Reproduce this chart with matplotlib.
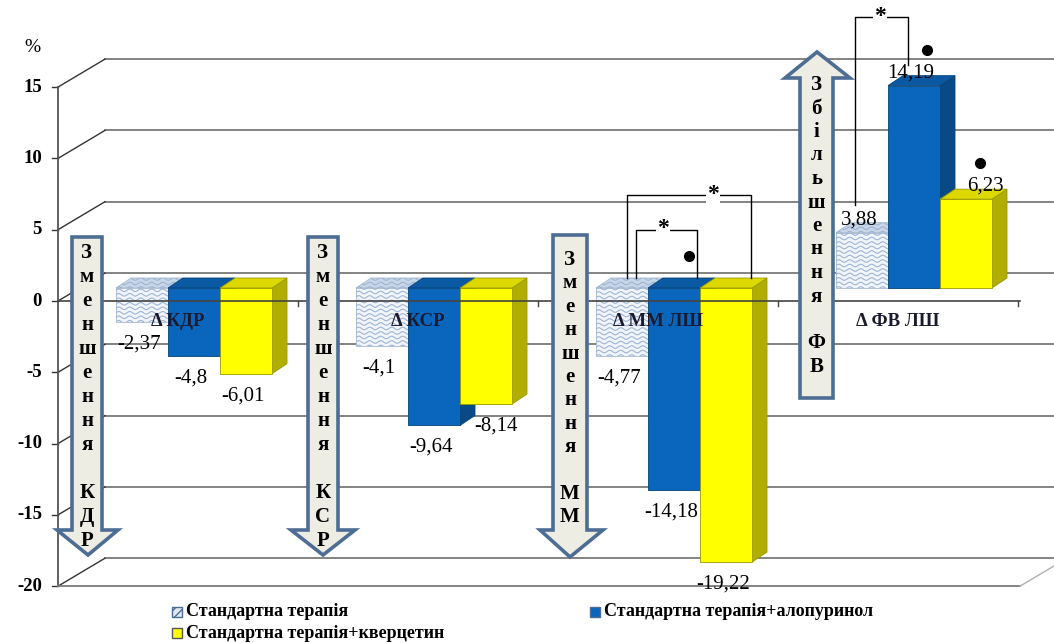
import numpy as np
import matplotlib
matplotlib.use("Agg")
import matplotlib.pyplot as plt
from matplotlib.patches import Polygon, Rectangle

plt.rcParams['font.family'] = ['Liberation Serif', 'DejaVu Serif']

# data
categories = ["Δ КДР", "Δ КСР", "Δ ММ ЛШ", "Δ ФВ ЛШ"]
series_names = ["Стандартна терапія", "Стандартна терапія+алопуринол",
                "Стандартна терапія+кверцетин"]
standard = [-2.37, -4.1, -4.77, 3.88]
allopurinol = [-4.8, -9.64, -14.18, 14.19]
quercetin = [-6.01, -8.14, -19.22, 6.23]
y_ticks = [15, 10, 5, 0, -5, -10, -15, -20]
arrow_texts = ["Зменшення КДР", "Зменшення КСР", "Зменшення ММ", "Збільшення ФВ"]

series = [standard, allopurinol, quercetin]

# colours: front, top, side
front_c = ['#f1f5fb', '#0a66bd', '#ffff00']
top_c = ['#c9d6e8', '#0b58a3', '#dcd800']
side_c = ['#dbe4f0', '#074a86', '#b1ae00']
edge_c = ['#a9b9cf', '#06437a', '#9c9a00']

W, H = 1054, 643
PX_X = 240.0      # pixels per category
PX_Y = 14.26      # pixels per percent
X_ORG = 58        # left edge of the front axis
Y_ORG = 301       # front zero line


def X(px):
    return (px - X_ORG) / PX_X - 0.5


def Y(py):
    return (Y_ORG - py) / PX_Y


def dxp(p):
    return p / PX_X


def dyp(p):
    return p / PX_Y


fig = plt.figure(figsize=(W / 100, H / 100), dpi=100)
ax = fig.add_axes([0, 0, 1, 1])
ax.set_xlim(X(0), X(W))
ax.set_ylim(Y(H), Y(0))
ax.axis('off')

grid_c = '#7a7a7a'
wall_dx, wall_dy = dxp(47), dyp(28)
x_left = X(X_ORG)
x_right = X(1020)

# back wall gridlines and left wall diagonals
for t in y_ticks:
    ax.plot([x_left + wall_dx, X(W + 20)], [t + wall_dy, t + wall_dy],
            color=grid_c, lw=1.3, zorder=1)
    ax.plot([x_left, x_left + wall_dx], [t, t + wall_dy], color='#333333', lw=1.0, zorder=1)
    ax.plot([x_left - dxp(6), x_left], [t, t], color='#333333', lw=1.0, zorder=1)
    ax.text(X(42), t, str(t), ha='right', va='center', fontsize=13.5,
            fontweight='bold', zorder=5)
ax.plot([x_left, x_left], [y_ticks[0], y_ticks[-1]], color='#555555', lw=1.3, zorder=1)
# floor
ax.plot([x_left, x_right], [-20, -20], color=grid_c, lw=1.3, zorder=1)
ax.plot([x_right, x_right + wall_dx], [-20, -20 + wall_dy], color='#b0b0b0', lw=1.0, zorder=1)
ax.text(X(32), Y(48), "%", ha='center', va='center', fontsize=14)

# bars
bw = dxp(52)
off_x, off_y = dxp(16), dyp(13)
dep_x, dep_y = dxp(15), dyp(10)


def waves(patch, x0, x1, y0, y1, z):
    xs = np.linspace(x0 - 0.02, x1 + 0.05, 80)
    step = dyp(4.5)
    for yk in np.arange(y0 - step, y1 + 2 * step, step):
        ln, = ax.plot(xs, yk + dyp(1.3) * np.sin(2 * np.pi * (xs - x0) / dxp(11)),
                      color='#9db4d4', lw=0.8, zorder=z)
        ln.set_clip_path(patch)


for j in range(len(categories)):
    for i, vals in enumerate(series):
        v = vals[j]
        xl = j + off_x + (i - 1.5) * bw
        xr = xl + bw
        ylo = off_y + min(v, 0)
        yhi = off_y + max(v, 0)
        z = 3 + i * 0.1
        side = Polygon([(xr, ylo), (xr + dep_x, ylo + dep_y), (xr + dep_x, yhi + dep_y), (xr, yhi)],
                       closed=True, fc=side_c[i], ec=edge_c[i], lw=0.6, zorder=z)
        top = Polygon([(xl, yhi), (xr, yhi), (xr + dep_x, yhi + dep_y), (xl + dep_x, yhi + dep_y)],
                      closed=True, fc=top_c[i], ec=edge_c[i], lw=0.6, zorder=z)
        front = Polygon([(xl, ylo), (xr, ylo), (xr, yhi), (xl, yhi)],
                        closed=True, fc=front_c[i], ec=edge_c[i], lw=0.6, zorder=z + 0.01,
                        joinstyle='round')
        for p in (side, top, front):
            ax.add_patch(p)
        if i == 0:
            waves(front, xl, xr, ylo, yhi, z + 0.02)
            waves(top, xl, xr + dep_x, yhi, yhi + dep_y, z + 0.005)

        # value label
        nudge = -3
        if (i, j) == (2, 1):
            nudge = 10
        if (i, j) == (2, 3):
            nudge = 19
        cx = (xl + xr) / 2 + dxp(nudge)
        if v < 0:
            ly = ylo - dyp(22)
        else:
            ly = yhi + dyp(13)
        ax.text(cx, ly, f"{v:g}".replace('.', ','), ha='center', va='center',
                fontsize=15, zorder=6)

# front category axis at zero
ax.plot([x_left, x_right], [0, 0], color='#444444', lw=1.2, zorder=4)
for j in range(1, len(categories) + 1):
    ax.plot([j - 0.5, j - 0.5], [0, -dyp(5)], color='#444444', lw=1.0, zorder=4)
for j, c in enumerate(categories):
    ax.text(j, Y(322), c, ha='center', va='center', fontsize=13.5,
            fontweight='bold', color='#1a1a2e', zorder=6)

# block arrows (x in px: shaft left/right, head left/right, tip x)
arrow_geo = [
    dict(sl=72, sr=102, hl=57, hr=118, tx=88, top=237, base=530, tip=555, y0=253, dy=24.0),
    dict(sl=308, sr=338, hl=291, hr=355, tx=323, top=237, base=530, tip=555, y0=253, dy=24.0),
    dict(sl=553, sr=587, hl=540, hr=603, tx=570, top=235, base=530, tip=557, y0=260, dy=23.4),
    dict(sl=800, sr=833, hl=785, hr=850, tx=817, top=398, base=78, tip=52, y0=85, dy=23.5),
]
for k, g in enumerate(arrow_geo):
    pts = [(g['sl'], g['top']), (g['sr'], g['top']), (g['sr'], g['base']), (g['hr'], g['base']),
           (g['tx'], g['tip']), (g['hl'], g['base']), (g['sl'], g['base'])]
    ax.add_patch(Polygon([(X(a), Y(b)) for a, b in pts], closed=True, fc='#eeede4',
                         ec='#4d6d94', lw=2.6, zorder=5, joinstyle='miter'))
    for n, ch in enumerate(arrow_texts[k]):
        if ch != ' ':
            ax.text(X((g['sl'] + g['sr']) / 2), Y(g['y0'] + n * g['dy']), ch, ha='center',
                    va='center', fontsize=15, fontweight='bold', zorder=6)


# significance brackets
def bracket(xa, ya, xb, yb, ytop, xs):
    ax.plot([X(xa), X(xa), X(xb), X(xb)], [Y(ya), Y(ytop), Y(ytop), Y(yb)],
            color='black', lw=1.0, zorder=4)
    ax.text(X(xs), Y(ytop - 1), "*", ha='center', va='center', fontsize=17,
            fontweight='bold', zorder=6,
            bbox=dict(fc='white', ec='none', pad=0.5))


bracket(855, 205, 908, 65, 17, 880)
bracket(636, 278, 697, 278, 230, 663)
bracket(627, 278, 751, 278, 195, 713)
ax.plot([X(689), X(927), X(980)], [Y(256), Y(50), Y(163)], 'o', color='black',
        ms=7, zorder=6)

# legend
leg = [(172, 612, 0), (590, 612, 1), (172, 633, 2)]
for px, py, i in leg:
    sq = Rectangle((X(px), Y(py + 5)), dxp(10), dyp(10), fc=front_c[i] if i else '#dfe8f4',
                   ec='#4d6d94' if i < 2 else '#555555', lw=1.0, zorder=6,
                   hatch='////' if i == 0 else None)
    ax.add_patch(sq)
    ax.text(X(px + 14), Y(py), series_names[i], ha='left', va='center',
            fontsize=13, fontweight='bold', zorder=6)

fig.savefig("out.png", dpi=100)
